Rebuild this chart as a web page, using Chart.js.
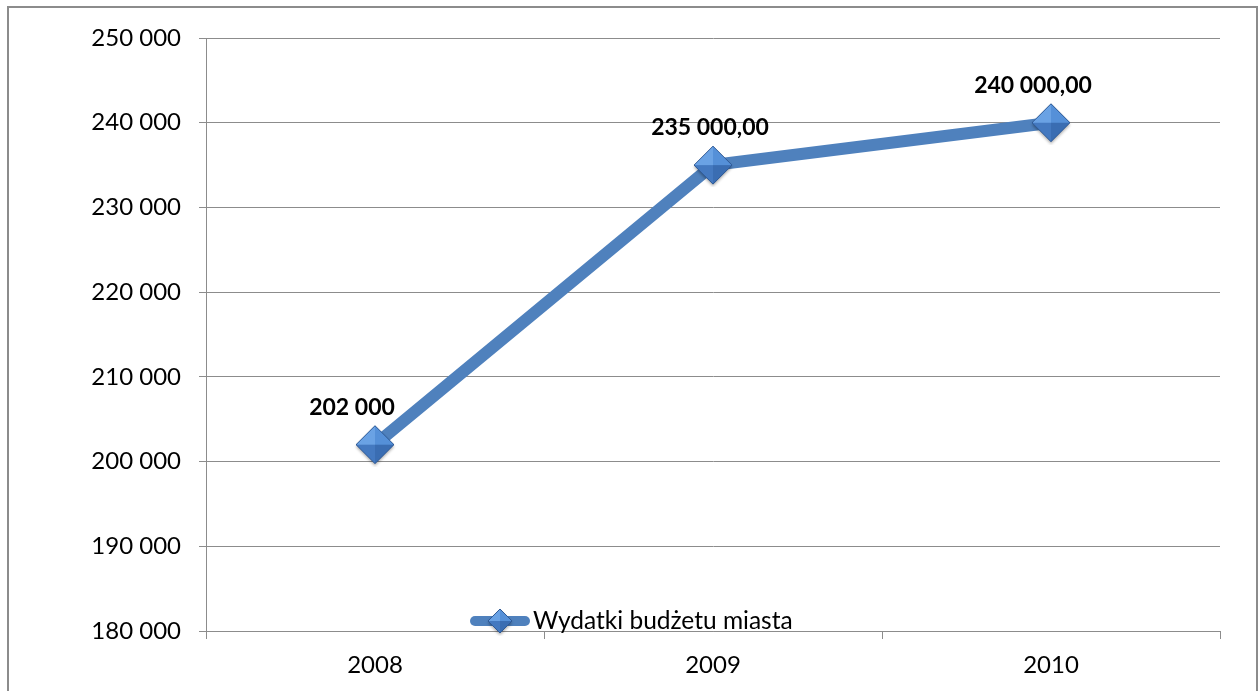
<!DOCTYPE html>
<html><head><meta charset="utf-8">
<script src="https://cdn.jsdelivr.net/npm/chart.js@4/dist/chart.umd.min.js"></script>
<style>html,body{margin:0;padding:0;background:#fff}#wrap{width:1260px;height:691px;position:relative}</style>
</head><body><div id="wrap"><canvas id="c" width="1260" height="691"></canvas></div>
<script>
const categories = ['2008', '2009', '2010'];
const seriesName = 'Wydatki budżetu miasta';
const values = [202000, 235000, 240000];
const valueLabels = ['202 000', '235 000,00', '240 000,00'];
const yMin = 180000, yMax = 250000, yStep = 10000;

// styling: label offsets relative to each point (px)
const labelDx = [-23, -3, -18];
const labelDy = -37;

const FONT = 'Lato, "Open Sans", sans-serif';
const BLUE = '#4F81BD';

function fmt(v){ return String(v).replace(/\B(?=(\d{3})+(?!\d))/g, ' '); }

function makeDiamond(r){
  const c = document.createElement('canvas');
  const s = r*2+6; c.width = s; c.height = s;
  const x = c.getContext('2d'); const m = s/2;
  const T=[m,m-r], R=[m+r,m], B=[m,m+r], L=[m-r,m];
  const tri = (a,b,col) => { x.beginPath(); x.moveTo(m,m); x.lineTo(a[0],a[1]); x.lineTo(b[0],b[1]); x.closePath(); x.fillStyle=col; x.fill(); };
  // shadow
  x.save(); x.shadowColor='rgba(0,0,0,0.35)'; x.shadowBlur=3; x.shadowOffsetY=2;
  x.beginPath(); x.moveTo(T[0],T[1]); x.lineTo(R[0],R[1]); x.lineTo(B[0],B[1]); x.lineTo(L[0],L[1]); x.closePath();
  x.fillStyle='#3f74b8'; x.fill(); x.restore();
  tri(L,T,'#6aa2e4');
  tri(T,R,'#5590d8');
  tri(R,B,'#3a6db2');
  tri(B,L,'#4479c0');
  x.beginPath(); x.moveTo(T[0],T[1]); x.lineTo(R[0],R[1]); x.lineTo(B[0],B[1]); x.lineTo(L[0],L[1]); x.closePath();
  x.strokeStyle='#2f5a96'; x.lineWidth=1; x.stroke();
  return c;
}
const diamond = makeDiamond(19);
const diamondSmall = makeDiamond(12);

const framePlugin = {
  id: 'frame',
  beforeDraw(chart){
    const ctx = chart.ctx;
    ctx.save();
    ctx.fillStyle = '#fff'; ctx.fillRect(0,0,chart.width,chart.height);
    ctx.strokeStyle = '#8c8c8c'; ctx.lineWidth = 2;
    ctx.strokeRect(8, 7, 1249, 700);
    ctx.restore();
  },
  afterDatasetsDraw(chart){
    const ctx = chart.ctx;
    const meta = chart.getDatasetMeta(0);
    ctx.save();
    ctx.font = 'bold 23px ' + FONT;
    ctx.fillStyle = '#000';
    ctx.textAlign = 'center'; ctx.textBaseline = 'middle';
    meta.data.forEach((pt, i) => {
      ctx.fillText(valueLabels[i], pt.x + labelDx[i], pt.y + labelDy);
    });
    // legend
    const lx1 = 470, lx2 = 530, ly = 621;
    ctx.strokeStyle = BLUE; ctx.lineWidth = 10; ctx.lineCap = 'round';
    ctx.beginPath(); ctx.moveTo(lx1+5, ly); ctx.lineTo(lx2-5, ly); ctx.stroke();
    ctx.drawImage(diamondSmall, (lx1+lx2)/2 - diamondSmall.width/2, ly - diamondSmall.height/2);
    ctx.font = '24.5px ' + FONT; ctx.textAlign = 'left'; ctx.textBaseline = 'middle';
    ctx.fillText(seriesName, 533, ly);
    ctx.restore();
  }
};

new Chart(document.getElementById('c'), {
  type: 'line',
  data: {
    labels: categories,
    datasets: [{
      label: seriesName,
      data: values,
      borderColor: BLUE,
      borderWidth: 12,
      pointStyle: diamond,
      pointRadius: 19,
      pointHoverRadius: 19,
      tension: 0,
      fill: false
    }]
  },
  options: {
    responsive: false,
    animation: false,
    events: [],
    layout: { padding: { left: 0, top: 38, right: 40, bottom: 0 } },
    plugins: { legend: { display: false }, tooltip: { enabled: false } },
    scales: {
      x: {
        offset: true,
        grid: { display: true, drawOnChartArea: false, drawTicks: true, tickLength: 8, color: '#8c8c8c', offset: true },
        border: { display: true, color: '#8c8c8c', width: 1 },
        ticks: { color: '#000', font: { family: FONT, size: 24 }, padding: 12 },
        afterFit(s){ s.height = 60; }
      },
      y: {
        min: yMin, max: yMax,
        ticks: { stepSize: yStep, color: '#000', font: { family: FONT, size: 24 }, padding: 18, callback: v => fmt(v) },
        grid: { color: '#8c8c8c', lineWidth: 1, tickLength: 7, drawTicks: true },
        border: { display: true, color: '#8c8c8c', width: 1 },
        afterFit(s){ s.width = 206; }
      }
    }
  },
  plugins: [framePlugin]
});
</script></body></html>
